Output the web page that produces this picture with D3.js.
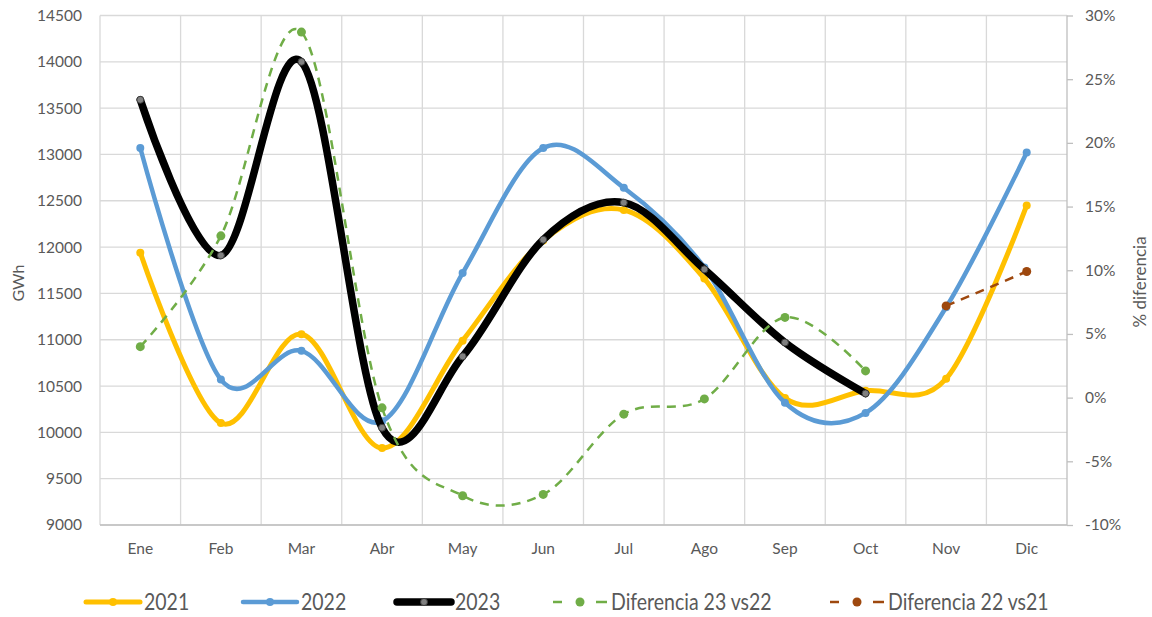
<!DOCTYPE html>
<html><head><meta charset="utf-8">
<script src="https://cdn.jsdelivr.net/npm/d3@7"></script>
<style>body{margin:0;background:#fff}svg{display:block}text{font-family:Lato,"Open Sans",sans-serif;fill:#595959}</style>
</head><body><svg id="c" width="1152" height="617"></svg>
<script>
const months = ["Ene","Feb","Mar","Abr","May","Jun","Jul","Ago","Sep","Oct","Nov","Dic"];
const leftTicks = [9000,9500,10000,10500,11000,11500,12000,12500,13000,13500,14000,14500];
const rightTicks = [-10,-5,0,5,10,15,20,25,30];
const s2021 = [11940,10100,11060,9830,10990,12070,12400,11660,10370,10450,10580,12450];
const s2022 = [13070,10570,10880,10120,11720,13070,12640,11780,10320,10210,11350,13020];
const s2023 = [13590,11910,14000,10050,10820,12080,12480,11760,10970,10420,null,null];
const d23vs22 = [4.0,12.7,28.7,-0.8,-7.7,-7.6,-1.3,-0.1,6.3,2.1,null,null];
const d22vs21 = [null,null,null,null,null,null,null,null,null,null,7.2,9.9];
const names = ["2021","2022","2023","Diferencia 23 vs22","Diferencia 22 vs21"];

const svg = d3.select("#c");
const L=100,R=1067,T=15.5,B=525;
const x = d3.scaleBand().domain(months).range([L,R]);
const cx = m => x(m)+x.bandwidth()/2;
const y = d3.scaleLinear().domain([9000,14500]).range([B,T]);
const y2 = d3.scaleLinear().domain([-10,30]).range([B,T]);
const grid="#d9d9d9";

// grid
svg.append("g").selectAll("line").data(leftTicks).join("line")
  .attr("x1",L).attr("x2",R).attr("y1",d=>y(d)).attr("y2",d=>y(d)).attr("stroke",grid).attr("stroke-width",1.3);
svg.append("g").selectAll("line").data(months).join("line")
  .attr("x1",d=>x(d)).attr("x2",d=>x(d)).attr("y1",T).attr("y2",B).attr("stroke",grid).attr("stroke-width",1.3);
svg.append("line").attr("x1",R).attr("x2",R).attr("y1",T).attr("y2",B).attr("stroke","#bfbfbf").attr("stroke-width",1.3);
svg.append("line").attr("x1",L).attr("x2",R).attr("y1",B).attr("y2",B).attr("stroke","#bfbfbf").attr("stroke-width",1.3);

// axes
const ax1 = svg.append("g").attr("transform",`translate(${L},0)`)
  .call(d3.axisLeft(y).tickValues(leftTicks).tickSize(0).tickPadding(18).tickFormat(d3.format("d")));
ax1.select(".domain").remove();
const ax2 = svg.append("g").attr("transform",`translate(${R},0)`)
  .call(d3.axisRight(y2).tickValues(rightTicks).tickSize(6).tickPadding(12).tickFormat(d=>d+"%"));
ax2.select(".domain").remove();
ax2.selectAll(".tick line").attr("stroke","#bfbfbf").attr("stroke-width",1.3);
const ax3 = svg.append("g").attr("transform",`translate(0,${B})`)
  .call(d3.axisBottom(x).tickSize(0).tickPadding(18));
ax3.select(".domain").remove();
svg.selectAll(".tick text").attr("font-size",15.5).attr("fill","#595959").attr("font-family","Lato");

svg.append("text").attr("transform","translate(24,283) rotate(-90)").attr("text-anchor","middle").attr("font-size",16).text("GWh");
svg.append("text").attr("transform","translate(1146,282) rotate(-90)").attr("text-anchor","middle").attr("font-size",17).text("% diferencia");

const curve = d3.curveCatmullRom.alpha(0);
function series(data, ys, color, width, dash, marker){
  const pts = months.map((m,i)=>({m,v:data[i]})).filter(p=>p.v!=null);
  const line = d3.line().x(p=>cx(p.m)).y(p=>ys(p.v)).curve(curve);
  svg.append("path").datum(pts).attr("d",line).attr("fill","none").attr("stroke",color)
    .attr("stroke-width",width).attr("stroke-dasharray",dash||null).attr("stroke-linecap",dash?"butt":"round");
  svg.append("g").selectAll("circle").data(pts).join("circle")
    .attr("cx",p=>cx(p.m)).attr("cy",p=>ys(p.v)).attr("r",marker.r)
    .attr("fill",marker.fill).attr("stroke",marker.stroke||"none").attr("stroke-width",marker.sw||0);
}
const styles = [
  {c:"#FFC000",w:5,dash:null,mk:{r:4,fill:"#FFC000"}},
  {c:"#5B9BD5",w:4.5,dash:null,mk:{r:4,fill:"#5B9BD5"}},
  {c:"#000000",w:7.5,dash:null,mk:{r:3.5,fill:"#808080",stroke:"#3a3a3a",sw:1}},
  {c:"#70AD47",w:2.5,dash:"9,7",mk:{r:4.5,fill:"#70AD47"}},
  {c:"#9E480E",w:2.5,dash:"9,7",mk:{r:4.5,fill:"#9E480E"}}
];
series(s2021,y,styles[0].c,styles[0].w,null,styles[0].mk);
series(s2022,y,styles[1].c,styles[1].w,null,styles[1].mk);
series(s2023,y,styles[2].c,styles[2].w,null,styles[2].mk);
series(d23vs22,y2,styles[3].c,styles[3].w,styles[3].dash,styles[3].mk);
series(d22vs21,y2,styles[4].c,styles[4].w,styles[4].dash,styles[4].mk);

// legend
const lx = [86,243,397,553,830], ly=602;
names.forEach((n,i)=>{
  const s=styles[i], g=svg.append("g");
  if(s.dash){
    g.append("line").attr("x1",lx[i]).attr("x2",lx[i]+9).attr("y1",ly).attr("y2",ly).attr("stroke",s.c).attr("stroke-width",s.w);
    g.append("line").attr("x1",lx[i]+43).attr("x2",lx[i]+54).attr("y1",ly).attr("y2",ly).attr("stroke",s.c).attr("stroke-width",s.w);
  } else {
    g.append("line").attr("x1",lx[i]).attr("x2",lx[i]+54).attr("y1",ly).attr("y2",ly).attr("stroke",s.c).attr("stroke-width",s.w).attr("stroke-linecap","round");
  }
  g.append("circle").attr("cx",lx[i]+27).attr("cy",ly).attr("r",s.mk.r).attr("fill",s.mk.fill).attr("stroke",s.mk.stroke||"none").attr("stroke-width",s.mk.sw||0);
  g.append("text").attr("transform",`translate(${lx[i]+58},${ly+7.5}) scale(1,1.15)`).attr("font-size",19.5).attr("fill","#404040").text(n);
});
</script></body></html>
